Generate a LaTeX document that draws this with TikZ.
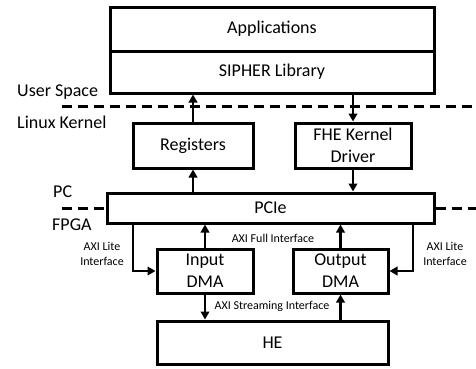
\documentclass[tikz,border=0pt]{standalone}
\usepackage{fontspec}
\setmainfont{Carlito}
\usetikzlibrary{arrows.meta}

\tikzset{
  blk/.style={draw=black, line width=3pt, fill=white, inner sep=0pt,
    align=center, font=\fontsize{18}{22}\selectfont},
  arr/.style={draw=black, line width=2.6pt,
    -{Triangle[length=8pt,width=8.5pt]}},
  sep/.style={draw=black, line width=3pt, dash pattern=on 10pt off 6pt},
  side/.style={anchor=west, inner sep=0pt, font=\fontsize{18}{22}\selectfont},
  tag/.style={inner sep=0pt, align=center, font=\fontsize{12}{15}\selectfont}
}

\begin{document}
\begin{tikzpicture}[x=1pt, y=-1pt]
  \useasboundingbox (0,0) rectangle (476,368);

  % software / hardware stack
  \node[blk, minimum width=324pt, minimum height=44pt] (app) at (272,29) {Applications};
  \node[blk, minimum width=324pt, minimum height=42pt] (lib) at (272,72) {SIPHER Library};
  \node[blk, minimum width=120pt, minimum height=45pt] (reg) at (193,145.5) {Registers};
  \node[blk, minimum width=116pt, minimum height=45pt] (drv) at (353,145.5) {FHE Kernel\\Driver};
  \node[blk, minimum width=327pt, minimum height=30pt] (pcie) at (270.5,208) {PCIe};
  \node[blk, minimum width=96pt, minimum height=44pt] (idma) at (205,271) {Input\\DMA};
  \node[blk, minimum width=95pt, minimum height=44pt] (odma) at (340.5,271) {Output\\DMA};
  \node[blk, minimum width=231pt, minimum height=43pt] (he) at (272.5,342.5) {HE};

  % domain boundaries
  \coordinate (ul) at (62,106);
  \coordinate (ur) at (476,106);
  \coordinate (bl) at (62,208);
  \coordinate (br) at (476,208);
  \draw[sep] (ul) -- (ur);
  \draw[sep] (bl) -- (pcie.west);
  \draw[sep] (pcie.east) -- (br);

  % boundary labels
  \node[side] (us) at (17,92) {User Space};
  \node[side] (lk) at (17,122) {Linux Kernel};
  \node[side] (pc) at (53,192) {PC};
  \node[side] (fpga) at (52,225) {FPGA};

  % connections
  \draw[arr] (reg.north) -- (reg.north |- lib.south);
  \draw[arr] (lib.south -| drv.north) -- (drv.north);
  \draw[arr] (pcie.north -| reg.south) -- (reg.south);
  \draw[arr] (drv.south) -- (drv.south |- pcie.north);
  \draw[arr] (idma.north) -- (idma.north |- pcie.south);
  \draw[arr] (odma.north) -- (odma.north |- pcie.south);
  \draw[arr] (idma.south) -- (idma.south |- he.north);
  \draw[arr] (he.north -| odma.south) -- (odma.south);

  % AXI Lite control paths
  \coordinate (lx) at (133,0);
  \coordinate (rx) at (413,0);
  \draw[arr] (pcie.south -| lx) |- (idma.west);
  \draw[arr] (pcie.south -| rx) |- (odma.east);

  % interface labels
  \node[tag] (full) at (273,238) {AXI Full Interface};
  \node[tag] (strm) at (272,306) {AXI Streaming Interface};
  \node[tag] (litel) at (102,253.5) {AXI Lite\\Interface};
  \node[tag] (liter) at (445,253.5) {AXI Lite\\Interface};
\end{tikzpicture}
\end{document}
